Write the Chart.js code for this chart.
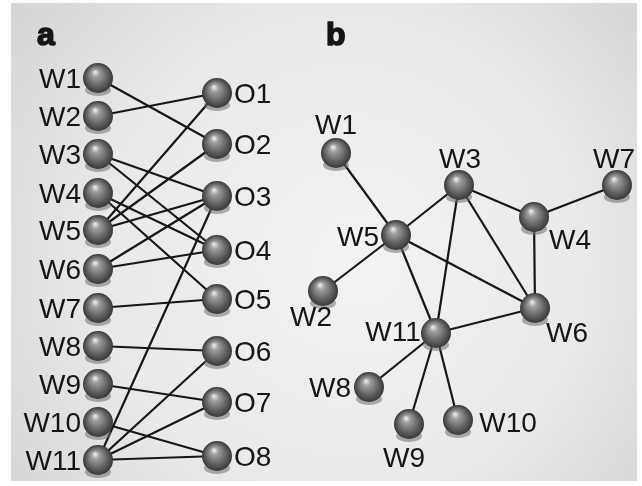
<!DOCTYPE html>
<html>
<head>
<meta charset="utf-8">
<script src="https://cdn.jsdelivr.net/npm/chart.js@4.4.0/dist/chart.umd.min.js"></script>
<style>
    html, body { margin: 0; padding: 0; background: #fff; }
    #wrap { width: 642px; height: 486px; }
</style>
</head>
<body>
<div id="wrap"><canvas id="net" width="642" height="486"></canvas></div>
<script>
// Node names
const wNames = ['W1', 'W2', 'W3', 'W4', 'W5', 'W6', 'W7', 'W8', 'W9', 'W10', 'W11'];
const oNames = ['O1', 'O2', 'O3', 'O4', 'O5', 'O6', 'O7', 'O8'];

// Panel a layout (bipartite): two columns
const aWX = 98;
const aWY = [78, 116, 154, 193, 230, 269, 308, 346, 384, 422, 460];
const aOX = 217;
const aOY = [93, 144, 196, 250, 299, 351, 402, 456];

// Panel a edges: [W index, O index]
const bipartiteEdges = [
    [0, 1], [1, 0], [2, 2], [2, 3], [3, 3], [3, 4],
    [4, 0], [4, 1], [4, 2], [5, 2], [5, 3], [6, 4],
    [7, 5], [8, 6], [9, 7], [10, 2], [10, 5], [10, 6], [10, 7]
];

// Panel b layout (one-mode projection)
const bX = [336, 323, 459, 534, 396, 535, 617, 369, 409, 458, 436];
const bY = [153, 291, 185, 217, 235, 308, 185, 387, 424, 420, 333];

// Panel b edges: [W index, W index]
const projectionEdges = [
    [0, 4], [1, 4], [2, 4], [2, 3], [2, 5], [2, 10], [3, 6],
    [3, 5], [4, 5], [4, 10], [5, 10], [10, 7], [10, 8], [10, 9]
];

// Label offsets in panel b (style only)
const bLabelOffsets = [
    [0, -29], [-12, 25], [1, -27], [36, 22], [-38, 1], [32, 24],
    [-3, -27], [-39, 0], [-5, 33], [50, 2], [-43, -2]
];

// Sphere sprite used as point style
function makeSphere() {
    const c = document.createElement('canvas');
    c.width = 40;
    c.height = 54;
    const g = c.getContext('2d');
    const cx = 20, cy = 27, r = 15;

    // soft shadow under the ball
    g.fillStyle = 'rgba(110,110,110,0.55)';
    g.beginPath();
    g.ellipse(cx, cy + 12, 13, 6, 0, 0, Math.PI * 2);
    g.fill();

    const grad = g.createRadialGradient(cx - 3, cy - 6, 1, cx, cy, r);
    grad.addColorStop(0, '#e2e2e2');
    grad.addColorStop(0.2, '#a0a0a0');
    grad.addColorStop(0.62, '#686868');
    grad.addColorStop(1, '#383838');
    g.fillStyle = grad;
    g.beginPath();
    g.arc(cx, cy, r, 0, Math.PI * 2);
    g.fill();
    return c;
}
const sphere = makeSphere();

function edgeDataset(p, q) {
    return {
        type: 'line',
        data: [p, q],
        borderColor: '#161616',
        borderWidth: 2.2,
        pointRadius: 0,
        fill: false,
        tension: 0,
        order: 10
    };
}

const datasets = [];

// Edges
bipartiteEdges.forEach(([w, o]) => {
    datasets.push(edgeDataset({ x: aWX, y: aWY[w] }, { x: aOX, y: aOY[o] }));
});
projectionEdges.forEach(([i, j]) => {
    datasets.push(edgeDataset({ x: bX[i], y: bY[i] }, { x: bX[j], y: bY[j] }));
});

// Nodes
const nodeStyle = {
    type: 'scatter',
    pointStyle: sphere,
    pointRadius: 15,
    showLine: false,
    order: 0
};
datasets.push(Object.assign({ id: 'aW', data: aWY.map(y => ({ x: aWX, y })) }, nodeStyle));
datasets.push(Object.assign({ id: 'aO', data: aOY.map(y => ({ x: aOX, y })) }, nodeStyle));
datasets.push(Object.assign({ id: 'bW', data: bX.map((x, i) => ({ x, y: bY[i] })) }, nodeStyle));

// Background shading
const backdrop = {
    id: 'backdrop',
    beforeDraw(chart) {
        const ctx = chart.ctx;
        ctx.save();
        ctx.fillStyle = '#ffffff';
        ctx.fillRect(0, 0, chart.width, chart.height);
        const grad = ctx.createRadialGradient(360, 260, 20, 330, 260, 430);
        grad.addColorStop(0, '#f2f2f2');
        grad.addColorStop(0.55, '#e9e9e9');
        grad.addColorStop(1, '#d2d2d2');
        ctx.fillStyle = grad;
        ctx.fillRect(11, 3, 626, 478);
        ctx.restore();
    }
};

// Node labels and panel letters
const nodeLabels = {
    id: 'nodeLabels',
    afterDatasetsDraw(chart) {
        const ctx = chart.ctx;
        const size = 28;
        const lift = Math.round(size * 0.716 / 2);
        const metas = chart.getSortedVisibleDatasetMetas();
        const find = id => metas.find(m => chart.data.datasets[m.index].id === id);

        ctx.save();
        ctx.fillStyle = '#151515';
        ctx.font = size + 'px "Liberation Sans", Arial, sans-serif';
        ctx.textBaseline = 'alphabetic';

        ctx.textAlign = 'right';
        find('aW').data.forEach((pt, i) => {
            ctx.fillText(wNames[i], pt.x - 17, pt.y + lift);
        });

        ctx.textAlign = 'left';
        find('aO').data.forEach((pt, i) => {
            ctx.fillText(oNames[i], pt.x + 17, pt.y + lift);
        });

        ctx.textAlign = 'center';
        find('bW').data.forEach((pt, i) => {
            const [dx, dy] = bLabelOffsets[i];
            ctx.fillText(wNames[i], pt.x + dx, pt.y + dy + lift);
        });

        // heavy panel letters
        ctx.font = 'bold 32px "Liberation Sans", Arial, sans-serif';
        ctx.textAlign = 'left';
        ctx.strokeStyle = '#151515';
        ctx.lineWidth = 1.6;
        ctx.lineJoin = 'round';
        ctx.fillText('a', 37, 45);
        ctx.strokeText('a', 37, 45);
        ctx.fillText('b', 326, 45);
        ctx.strokeText('b', 326, 45);
        ctx.restore();
    }
};

new Chart(document.getElementById('net').getContext('2d'), {
    type: 'scatter',
    data: { datasets },
    options: {
        responsive: false,
        animation: false,
        events: [],
        layout: { padding: 0, autoPadding: false },
        scales: {
            x: { type: 'linear', min: 0, max: 642, display: false },
            y: { type: 'linear', min: 0, max: 486, reverse: true, display: false }
        },
        plugins: {
            legend: { display: false },
            tooltip: { enabled: false }
        }
    },
    plugins: [backdrop, nodeLabels]
});
</script>
</body>
</html>
